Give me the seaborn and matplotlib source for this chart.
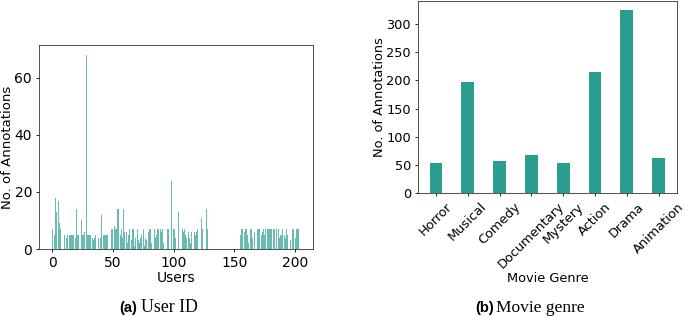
import numpy as np
import pandas as pd
import matplotlib
matplotlib.use("Agg")
import matplotlib.pyplot as plt
import seaborn as sns

# (a) annotations per user, users 0-128 and 155-203
users_a = list(range(0, 129))
counts_a = [7, 0, 5, 18, 13, 17, 9, 7, 0, 0,
            5, 0, 4, 5, 5, 5, 5, 5, 5, 4,
            14, 5, 5, 18, 10, 5, 5, 6, 68, 5,
            5, 5, 5, 4, 3, 4, 5, 5, 4, 0,
            4, 12, 5, 5, 5, 5, 5, 0, 0, 7,
            7, 8, 7, 7, 14, 14, 5, 7, 4, 14,
            6, 6, 2, 5, 7, 3, 7, 7, 1, 4,
            7, 3, 2, 4, 5, 7, 1, 4, 3, 6,
            7, 7, 2, 0, 7, 4, 5, 7, 7, 7,
            6, 7, 2, 0, 0, 7, 7, 0, 24, 0,
            7, 7, 4, 0, 13, 0, 0, 7, 6, 7,
            5, 4, 6, 4, 2, 6, 3, 6, 5, 6,
            7, 0, 0, 11, 7, 0, 0, 14, 7]
users_b = list(range(155, 204))
counts_b = [5, 7, 7, 6, 7, 7, 5, 2, 7, 7,
            4, 0, 6, 0, 7, 7, 7, 5, 6, 7,
            5, 7, 7, 7, 7, 7, 7, 7, 7, 0,
            7, 7, 4, 5, 5, 7, 5, 4, 7, 5,
            4, 3, 0, 7, 7, 4, 7, 7, 7]

# (b) annotations per genre
genres = ["Horror", "Musical", "Comedy", "Documentary", "Mystery", "Action", "Drama", "Animation"]
genre_counts = [53, 197, 57, 68, 54, 215, 325, 63]

color = "#2a9d8f"

user_df = pd.DataFrame({"user": users_a + users_b, "count": counts_a + counts_b})
genre_df = pd.DataFrame({"genre": genres, "count": genre_counts})

plt.rcParams["axes.linewidth"] = 0.6
plt.rcParams["axes.edgecolor"] = "#333333"

fig = plt.figure(figsize=(6.85, 3.17), dpi=100)

# left panel
ax1 = fig.add_axes([0.057, 0.2145, 0.400, 0.6435])
sns.barplot(data=user_df, x="user", y="count", native_scale=True, color=color,
            saturation=1, alpha=0.7, width=0.8, errorbar=None, linewidth=0, ax=ax1)
ax1.set_xlim(-10.7, 214.8)
ax1.set_ylim(0, 71.5)
ax1.set_xticks([0, 50, 100, 150, 200])
ax1.set_yticks([0, 20, 40, 60])
ax1.set_xlabel("Users", fontsize=10)
ax1.set_ylabel("No. of Annotations", fontsize=9.5)
ax1.tick_params(labelsize=10, length=2.5, width=0.6, pad=2.5)
ax1.xaxis.set_label_coords(0.5, -0.108)
ax1.yaxis.set_label_coords(-0.092, 0.5)

# right panel
ax2 = fig.add_axes([0.610, 0.391, 0.378, 0.606])
sns.barplot(data=genre_df, x="genre", y="count", color=color, saturation=1,
            width=0.4, errorbar=None, ax=ax2)
ax2.set_xlim(-0.57, 7.57)
ax2.set_ylim(0, 341)
ax2.set_yticks([0, 50, 100, 150, 200, 250, 300])
ax2.set_xlabel("Movie Genre", fontsize=9.3)
ax2.set_ylabel("No. of Annotations", fontsize=9.3)
ax2.tick_params(labelsize=9.3, length=2.5, width=0.6, pad=2.5)
plt.setp(ax2.get_xticklabels(), rotation=45)
ax2.xaxis.set_label_coords(0.5, -0.411)
ax2.yaxis.set_label_coords(-0.124, 0.5)

# captions
cap_y = 0.016
fig.text(119 / 685, cap_y, "(a)", fontsize=10.5, fontweight="bold", family="Liberation Sans", va="baseline")
fig.text(141 / 685, cap_y, "User ID", fontsize=12.8, family="Liberation Serif", va="baseline")
fig.text(475 / 685, cap_y, "(b)", fontsize=10.5, fontweight="bold", family="Liberation Sans", va="baseline")
fig.text(496 / 685, cap_y, "Movie genre", fontsize=12.5, family="Liberation Serif", va="baseline")

fig.savefig("out.png", dpi=100)
